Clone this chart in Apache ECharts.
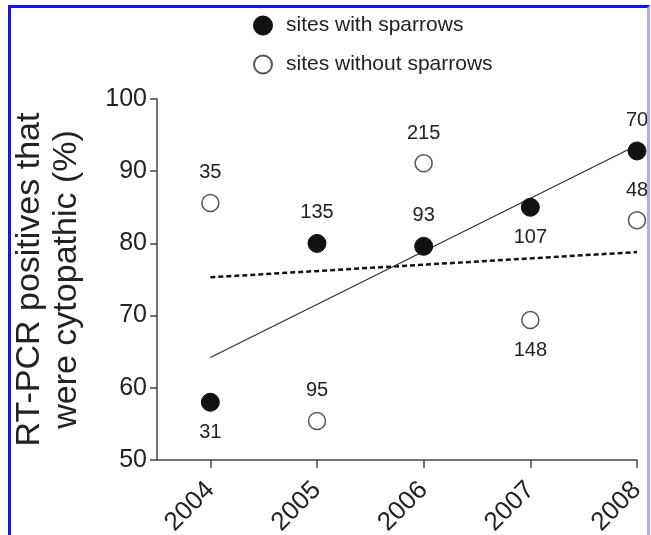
<!DOCTYPE html>
<html>
<head>
<meta charset="utf-8">
<script src="https://cdn.jsdelivr.net/npm/echarts@6/dist/echarts.min.js"></script>
<style>
html,body{margin:0;padding:0;background:#fff;}
#chart{position:absolute;left:0;top:0;width:651px;height:535px;}
#frame{position:absolute;left:8px;top:5px;width:636px;height:540px;border-top:3px solid #1414f0;border-left:3px solid #1414f0;border-right:3px solid #a8a8ff;pointer-events:none;}
</style>
</head>
<body>
<div id="chart"></div>
<div id="frame"></div>
<script>
var years = [2004, 2005, 2006, 2007, 2008];
var withSparrows = [58.0, 80.0, 79.6, 85.0, 92.8];
var withoutSparrows = [85.6, 55.4, 91.1, 69.4, 83.2];
var withN = [31, 135, 93, 107, 70];
var withoutN = [35, 95, 215, 148, 48];
var withLabelPos = ['bottom', 'top', 'top', 'bottom', 'top'];
var withoutLabelPos = ['top', 'top', 'top', 'bottom', 'top'];
var trendWith = [[2004, 64.2], [2008, 93.6]];
var trendWithout = [[2004, 75.3], [2008, 78.8]];
var yTicks = [50, 60, 70, 80, 90, 100];

var FONT = 'Liberation Sans, Arial, sans-serif';

function build(vals, ns, pos) {
  return years.map(function (y, i) {
    return {
      value: [y, vals[i], ns[i]],
      label: { position: pos[i] }
    };
  });
}

var chart = echarts.init(document.getElementById('chart'), null, { renderer: 'canvas' });
chart.setOption({
  animation: false,
  backgroundColor: '#fff',
  grid: { left: 157, right: 14, top: 99, bottom: 75, containLabel: false, outerBoundsMode: 'none' },
  legend: {
    orient: 'vertical',
    left: 253,
    top: 15,
    padding: 0,
    itemWidth: 36,
    itemHeight: 18,
    itemGap: 18,
    data: ['sites with sparrows', 'sites without sparrows'],
    textStyle: { fontFamily: FONT, fontSize: 21, color: '#222' }
  },
  xAxis: {
    type: 'value',
    min: 2003.5,
    max: 2008,
    interval: 0.5,
    splitLine: { show: false },
    axisLine: { show: true, lineStyle: { color: '#444', width: 1.5 } },
    axisTick: { show: true, length: 8, customValues: years, lineStyle: { color: '#444', width: 1.5 } },
    axisLabel: {
      customValues: years,
      rotate: 45,
      margin: 26,
      fontFamily: FONT,
      fontSize: 26,
      color: '#222',
      formatter: function (v) { return String(v); }
    }
  },
  yAxis: {
    type: 'value',
    min: 50,
    max: 100,
    interval: 10,
    name: 'RT-PCR positives that\nwere cytopathic (%)',
    nameLocation: 'middle',
    nameRotate: 90,
    nameGap: 72,
    nameTextStyle: { fontFamily: FONT, fontSize: 34, color: '#222', lineHeight: 37 },
    splitLine: { show: false },
    axisLine: { show: true, lineStyle: { color: '#444', width: 1.5 } },
    axisTick: { show: true, length: 7, lineStyle: { color: '#444', width: 1.5 } },
    axisLabel: { customValues: yTicks, margin: 10, fontFamily: FONT, fontSize: 25, color: '#222' }
  },
  series: [
    {
      type: 'line',
      name: 'trend with',
      data: trendWith,
      symbol: 'none',
      silent: true,
      lineStyle: { color: '#333', width: 1.3 },
      z: 1
    },
    {
      type: 'line',
      name: 'trend without',
      data: trendWithout,
      symbol: 'none',
      silent: true,
      lineStyle: { color: '#111', width: 2.5, type: [5, 3] },
      z: 1
    },
    {
      type: 'scatter',
      name: 'sites with sparrows',
      data: build(withSparrows, withN, withLabelPos),
      symbol: 'circle',
      symbolSize: 18,
      itemStyle: { color: '#111', borderColor: '#111', borderWidth: 1, opacity: 1 },
      label: {
        show: true,
        distance: 11,
        fontFamily: FONT,
        fontSize: 20,
        color: '#222',
        formatter: function (p) { return String(p.value[2]); }
      },
      z: 3
    },
    {
      type: 'scatter',
      name: 'sites without sparrows',
      data: build(withoutSparrows, withoutN, withoutLabelPos),
      symbol: 'circle',
      symbolSize: 17,
      itemStyle: { color: '#fff', borderColor: '#555', borderWidth: 1.5, opacity: 1 },
      label: {
        show: true,
        distance: 11,
        fontFamily: FONT,
        fontSize: 20,
        color: '#222',
        formatter: function (p) { return String(p.value[2]); }
      },
      z: 3
    }
  ]
});
</script>
</body>
</html>
